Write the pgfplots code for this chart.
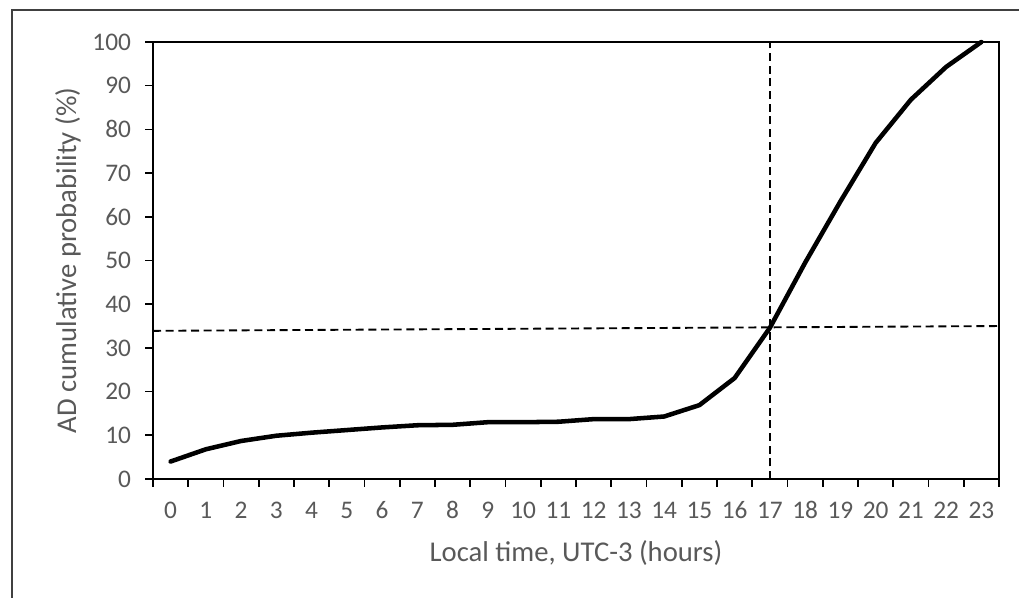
\documentclass[border=0pt]{standalone}
\usepackage{fontspec}
\setmainfont{Carlito}
\usepackage{pgfplots}
\pgfplotsset{compat=1.18}
\definecolor{txt}{HTML}{595959}
\newcommand{\tickfont}{\fontsize{19}{22}\selectfont}
\newcommand{\labelfont}{\fontsize{21.5}{25}\selectfont}

\begin{document}
\begin{tikzpicture}
\useasboundingbox (0pt,0pt) rectangle (764.25pt,448.5pt);
% outer chart frame (cropped on the right and bottom)
\draw[line width=1.5pt, black!75] (9pt,0pt) -- (9pt,441pt) -- (764.25pt,441pt);
\begin{axis}[
    at={(114.75pt,89.25pt)}, anchor=south west,
    scale only axis,
    width=634.5pt, height=327.75pt,
    xmin=-0.5, xmax=23.5,
    ymin=0, ymax=100,
    clip=false,
    axis line style={black, line width=1.2pt},
    tick align=outside,
    tick pos=left,
    major tick length=6pt,
    tick style={black, line width=1.2pt},
    xtick={-0.5,0.5,...,23.5},
    x tick label as interval,
    xticklabels={0,1,2,3,4,5,6,7,8,9,10,11,12,13,14,15,16,17,18,19,20,21,22,23},
    ytick={0,10,...,100},
    /pgf/number format/assume math mode=true,
    tick label style={font=\tickfont, text=txt},
    xticklabel style={text height=13pt, text depth=0pt, yshift=-7pt},
    yticklabel style={xshift=-7pt},
    xlabel={Local time, UTC-3 (hours)},
    ylabel={AD cumulative probability (\%)},
    x label style={font=\labelfont, text=txt, at={(axis description cs:0.5,0)}, anchor=center, yshift=-55.5pt},
    y label style={font=\labelfont, text=txt, at={(axis description cs:-0.1005,0.5)}, anchor=center},
]
% reference lines
\addplot[black, line width=1.4pt, dash pattern=on 6pt off 3.5pt] coordinates {(-0.5,33.9) (23.5,35.0)};
\addplot[black, line width=1.4pt, dash pattern=on 6pt off 3.5pt] coordinates {(17,0) (17,100)};
% cumulative probability
\addplot[black, line width=3.4pt, line join=round, line cap=round] coordinates {
    (0,4.0) (1,6.8) (2,8.7) (3,9.9) (4,10.6) (5,11.2) (6,11.8) (7,12.3)
    (8,12.4) (9,13.0) (10,13.0) (11,13.1) (12,13.7) (13,13.7) (14,14.3)
    (15,16.9) (16,23.1) (17,34.6) (18,49.5) (19,63.5) (20,76.9) (21,86.8)
    (22,94.3) (23,100)
};
\end{axis}
\end{tikzpicture}
\end{document}
